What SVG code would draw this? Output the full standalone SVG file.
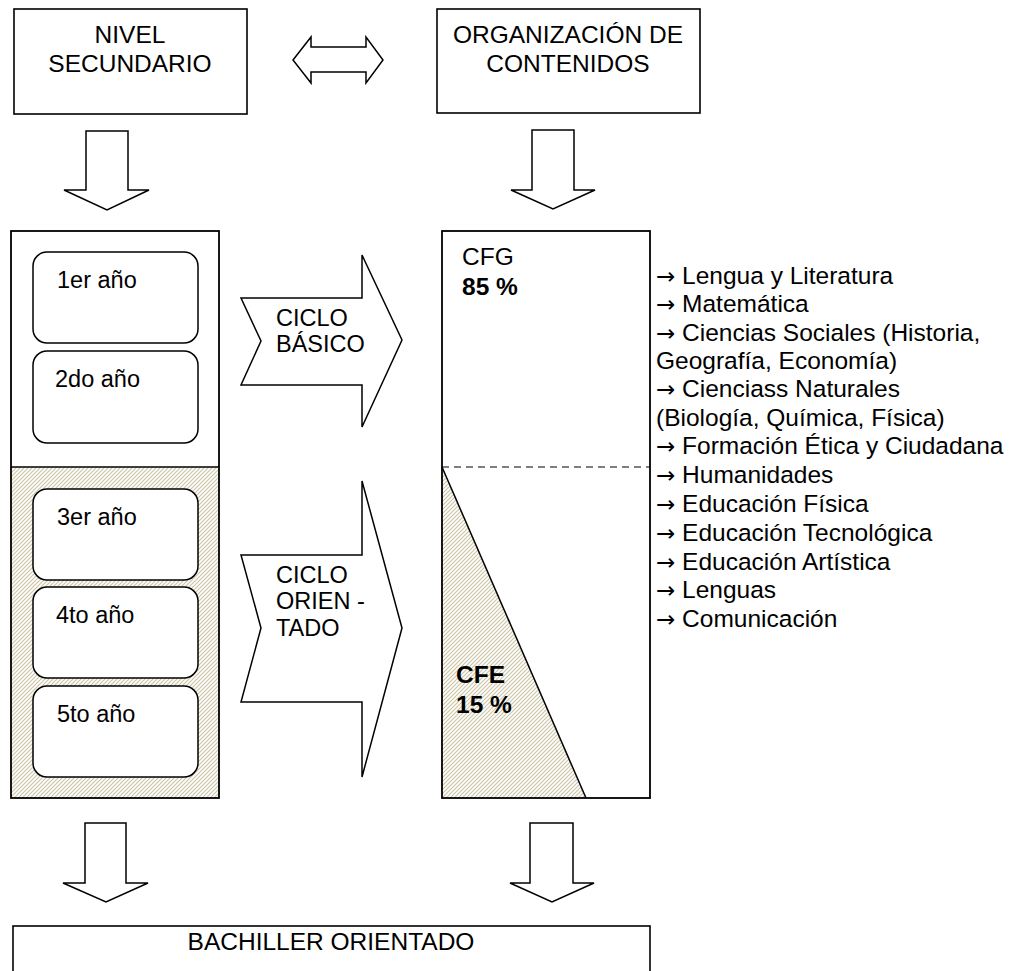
<svg xmlns="http://www.w3.org/2000/svg" width="1021" height="971" viewBox="0 0 1021 971">
<defs>
<pattern id="hatch" patternUnits="userSpaceOnUse" width="4" height="4">
<rect width="4" height="4" fill="#fff"/>
<path d="M-1,1 l2,-2 M0,4 l4,-4 M3,5 l2,-2" stroke="#cdc5a5" stroke-width="1.2"/>
</pattern>
<style>
.box{fill:#fff;stroke:#000;stroke-width:1.6}
.rbox{fill:#fff;stroke:#000;stroke-width:1.5}
.arr{fill:#fff;stroke:#000;stroke-width:1.5;stroke-linejoin:miter}
.t{font-family:"Liberation Sans",Arial,sans-serif;font-size:23.5px;fill:#000}
.c{text-anchor:middle}
.b{font-weight:bold}
.l{font-size:24.5px}
.ar{font-family:"DejaVu Sans",sans-serif;font-size:23px}
</style>
</defs>
<rect width="1021" height="971" fill="#fff"/>

<g id="nivel-secundario">
<rect class="box" x="14" y="9" width="233" height="105"/>
<text class="t c l" x="130" y="43">NIVEL</text>
<text class="t c l" x="130" y="72">SECUNDARIO</text>
</g>

<g id="organizacion-contenidos">
<rect class="box" x="437" y="9" width="263" height="104"/>
<text class="t c l" x="568" y="43">ORGANIZACIÓN DE</text>
<text class="t c l" x="568" y="72">CONTENIDOS</text>
</g>

<g id="anios">
<rect x="11" y="231" width="208" height="236" fill="#fff"/>
<rect x="11" y="467" width="208" height="331" fill="url(#hatch)"/>
<line x1="11" y1="467" x2="219" y2="467" stroke="#000" stroke-width="1.5"/>
<rect x="11" y="231" width="208" height="567" fill="none" stroke="#000" stroke-width="1.8"/>
<g id="anio1"><rect class="rbox" x="33" y="252" width="165" height="91" rx="14"/><text class="t" x="57" y="288">1er año</text></g>
<g id="anio2"><rect class="rbox" x="33" y="351" width="165" height="92" rx="14"/><text class="t" x="55" y="387">2do año</text></g>
<g id="anio3"><rect class="rbox" x="33" y="489" width="165" height="91" rx="14"/><text class="t" x="57" y="525">3er año</text></g>
<g id="anio4"><rect class="rbox" x="33" y="587" width="165" height="91" rx="14"/><text class="t" x="56" y="623">4to año</text></g>
<g id="anio5"><rect class="rbox" x="33" y="686" width="165" height="91" rx="14"/><text class="t" x="57" y="722">5to año</text></g>
</g>

<g id="cfg-cfe">
<rect x="442" y="231" width="208" height="567" fill="#fff"/>
<polygon points="442,467 586,798 442,798" fill="url(#hatch)"/>
<line x1="442" y1="467" x2="586" y2="798" stroke="#000" stroke-width="1.5"/>
<line x1="442" y1="467" x2="650" y2="467" stroke="#000" stroke-width="1.2" stroke-dasharray="7,5"/>
<rect x="442" y="231" width="208" height="567" fill="none" stroke="#000" stroke-width="1.8"/>
<text class="t l" x="462" y="265">CFG</text>
<text class="t l b" x="462" y="295">85 %</text>
<text class="t l b" x="456" y="683">CFE</text>
<text class="t l b" x="456" y="713">15 %</text>
</g>

<g id="materias" class="t l">
<text x="656" y="284"><tspan class="ar">→</tspan> Lengua y Literatura</text>
<text x="656" y="312"><tspan class="ar">→</tspan> Matemática</text>
<text x="656" y="341"><tspan class="ar">→</tspan> Ciencias Sociales (Historia,</text>
<text x="656" y="369">Geografía, Economía)</text>
<text x="656" y="397"><tspan class="ar">→</tspan> Cienciass Naturales</text>
<text x="656" y="426">(Biología, Química, Física)</text>
<text x="656" y="454"><tspan class="ar">→</tspan> Formación Ética y Ciudadana</text>
<text x="656" y="483"><tspan class="ar">→</tspan> Humanidades</text>
<text x="656" y="512"><tspan class="ar">→</tspan> Educación Física</text>
<text x="656" y="541"><tspan class="ar">→</tspan> Educación Tecnológica</text>
<text x="656" y="570"><tspan class="ar">→</tspan> Educación Artística</text>
<text x="656" y="598"><tspan class="ar">→</tspan> Lenguas</text>
<text x="656" y="627"><tspan class="ar">→</tspan> Comunicación</text>
</g>

<g id="bachiller">
<rect class="box" x="13" y="926" width="637" height="60"/>
<text class="t c l" x="331" y="950">BACHILLER ORIENTADO</text>
</g>

<g id="connectors">
<polygon class="arr" points="293,60 311,37 311,47 366,47 366,37 383,60 366,83 366,72 311,72 311,83"/>
<polygon class="arr" points="86,131 128,131 128,190 149,190 107,210 64,190 86,190"/>
<polygon class="arr" points="532,130 574,130 574,190 595,190 553,209 511,190 532,190"/>
<g id="ciclo-basico">
<polygon class="arr" points="241,298 362,298 362,255 402,340 362,427 362,385 241,385 261,341"/>
<text class="t" x="276" y="326">CICLO</text>
<text class="t" x="276" y="352">BÁSICO</text>
</g>
<g id="ciclo-orientado">
<polygon class="arr" points="241,555 362,555 362,481 402,628 362,777 362,702 241,702 261,628"/>
<text class="t" x="276" y="583">CICLO</text>
<text class="t" x="276" y="609">ORIEN -</text>
<text class="t" x="276" y="636">TADO</text>
</g>
<polygon class="arr" points="85,823 126,823 126,883 148,883 106,902 63,883 85,883"/>
<polygon class="arr" points="530,823 573,823 573,883 594,883 552,902 510,883 530,883"/>
</g>
</svg>
